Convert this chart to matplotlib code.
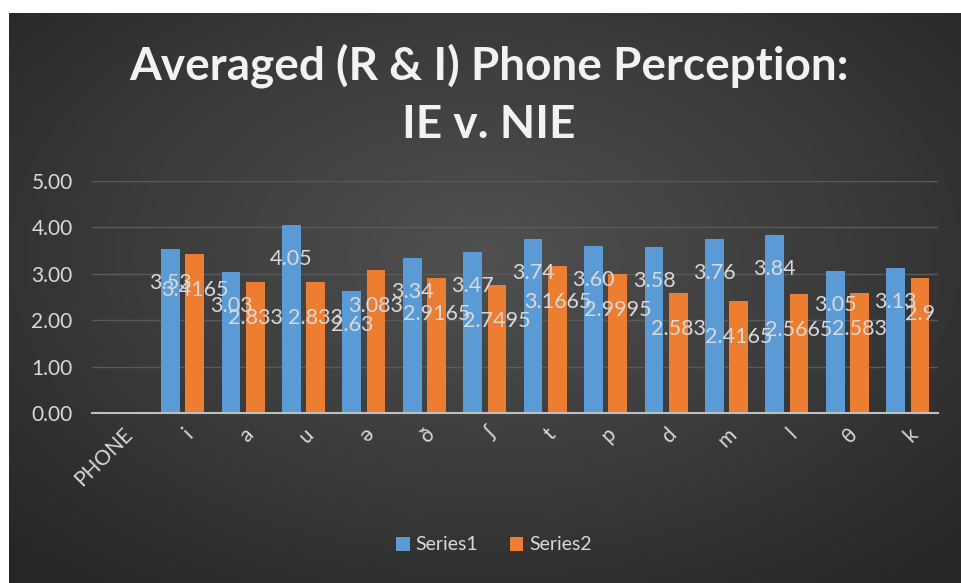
import numpy as np
import matplotlib.pyplot as plt
from matplotlib.colors import LinearSegmentedColormap

plt.rcParams['font.family'] = ['Lato', 'DejaVu Sans']

phones = ['PHONE', 'i', 'a', 'u', 'ə', 'ð', 'ʃ', 't', 'p', 'd', 'm', 'l', 'θ', 'k']
series1 = [np.nan, 3.53, 3.03, 4.05, 2.63, 3.34, 3.47, 3.74, 3.60, 3.58, 3.76, 3.84, 3.05, 3.13]
series2 = [np.nan, 3.4165, 2.833, 2.833, 3.083, 2.9165, 2.7495, 3.1665, 2.9995, 2.583, 2.4165, 2.5665, 2.583, 2.9]

blue = '#5B9BD5'
orange = '#ED7D31'
txt = '#d9d9d9'

fig = plt.figure(figsize=(9.61, 5.83), dpi=100, facecolor='white')

# dark radial background panel
bg = fig.add_axes([9 / 961, 0, 952 / 961, 1 - 13 / 583])
yy, xx = np.mgrid[-1:1:300j, -1:1:500j]
r = np.sqrt((xx * 0.95) ** 2 + ((yy + 0.15) * 0.9) ** 2)
cmap = LinearSegmentedColormap.from_list('bg', ['#505050', '#3c3c3c', '#262626'])
bg.imshow(r, cmap=cmap, aspect='auto', extent=[0, 1, 0, 1], vmin=0, vmax=1.35)
bg.axis('off')

ax = fig.add_axes([92 / 961, 1 - 413 / 583, 846 / 961, 232 / 583])
ax.set_facecolor('none')

x = np.arange(len(phones))
w = 0.31
b1 = ax.bar(x - 0.2, series1, w, color=blue, label='Series1', zorder=3)
b2 = ax.bar(x + 0.2, series2, w, color=orange, label='Series2', zorder=3)

for xi, v in zip(x, series1):
    if not np.isnan(v):
        ax.annotate(f'{v:.2f}', (xi - 0.2, v), xytext=(0, -34), textcoords='offset pixels',
                    ha='center', va='center', color=txt, fontsize=15.5, zorder=4)
for xi, v in zip(x, series2):
    if not np.isnan(v):
        ax.annotate(f'{v:g}', (xi + 0.2, v), xytext=(0, -36), textcoords='offset pixels',
                    ha='center', va='center', color=txt, fontsize=15.5, zorder=4)

ax.set_xlim(-0.5, len(phones) - 0.5)
ax.set_ylim(0, 5)
ax.set_yticks(np.arange(0, 6, 1))
ax.set_yticklabels([f'{t:.2f}' for t in range(6)])
ax.yaxis.grid(True, color='#5a5a5a', linewidth=1, zorder=0)
for s in ['top', 'right', 'left']:
    ax.spines[s].set_visible(False)
ax.spines['bottom'].set_color('#bfbfbf')
ax.spines['bottom'].set_linewidth(1.5)
ax.spines['bottom'].set_zorder(5)
ax.tick_params(axis='both', length=0, colors=txt, labelsize=15)
ax.tick_params(axis='y', pad=14)
ax.tick_params(axis='x', pad=8)
ax.set_xticks(x)
ax.set_xticklabels(phones, rotation=45, ha='right', rotation_mode='anchor')

fig.text(489 / 961, 1 - 66 / 583, 'Averaged (R & I) Phone Perception:', ha='center', va='center',
         color='#f2f2f2', fontsize=33, fontweight='bold')
fig.text(489 / 961, 1 - 125 / 583, 'IE v. NIE', ha='center', va='center',
         color='#f2f2f2', fontsize=33, fontweight='bold')

fig.legend(handles=[b1, b2], loc='center', bbox_to_anchor=(494 / 961, 1 - 545 / 583), ncol=2,
           frameon=False, labelcolor=txt, fontsize=14, handlelength=0.7, handleheight=0.7,
           handletextpad=0.3, columnspacing=1.6)

fig.savefig('out.png', dpi=100, facecolor='white')
